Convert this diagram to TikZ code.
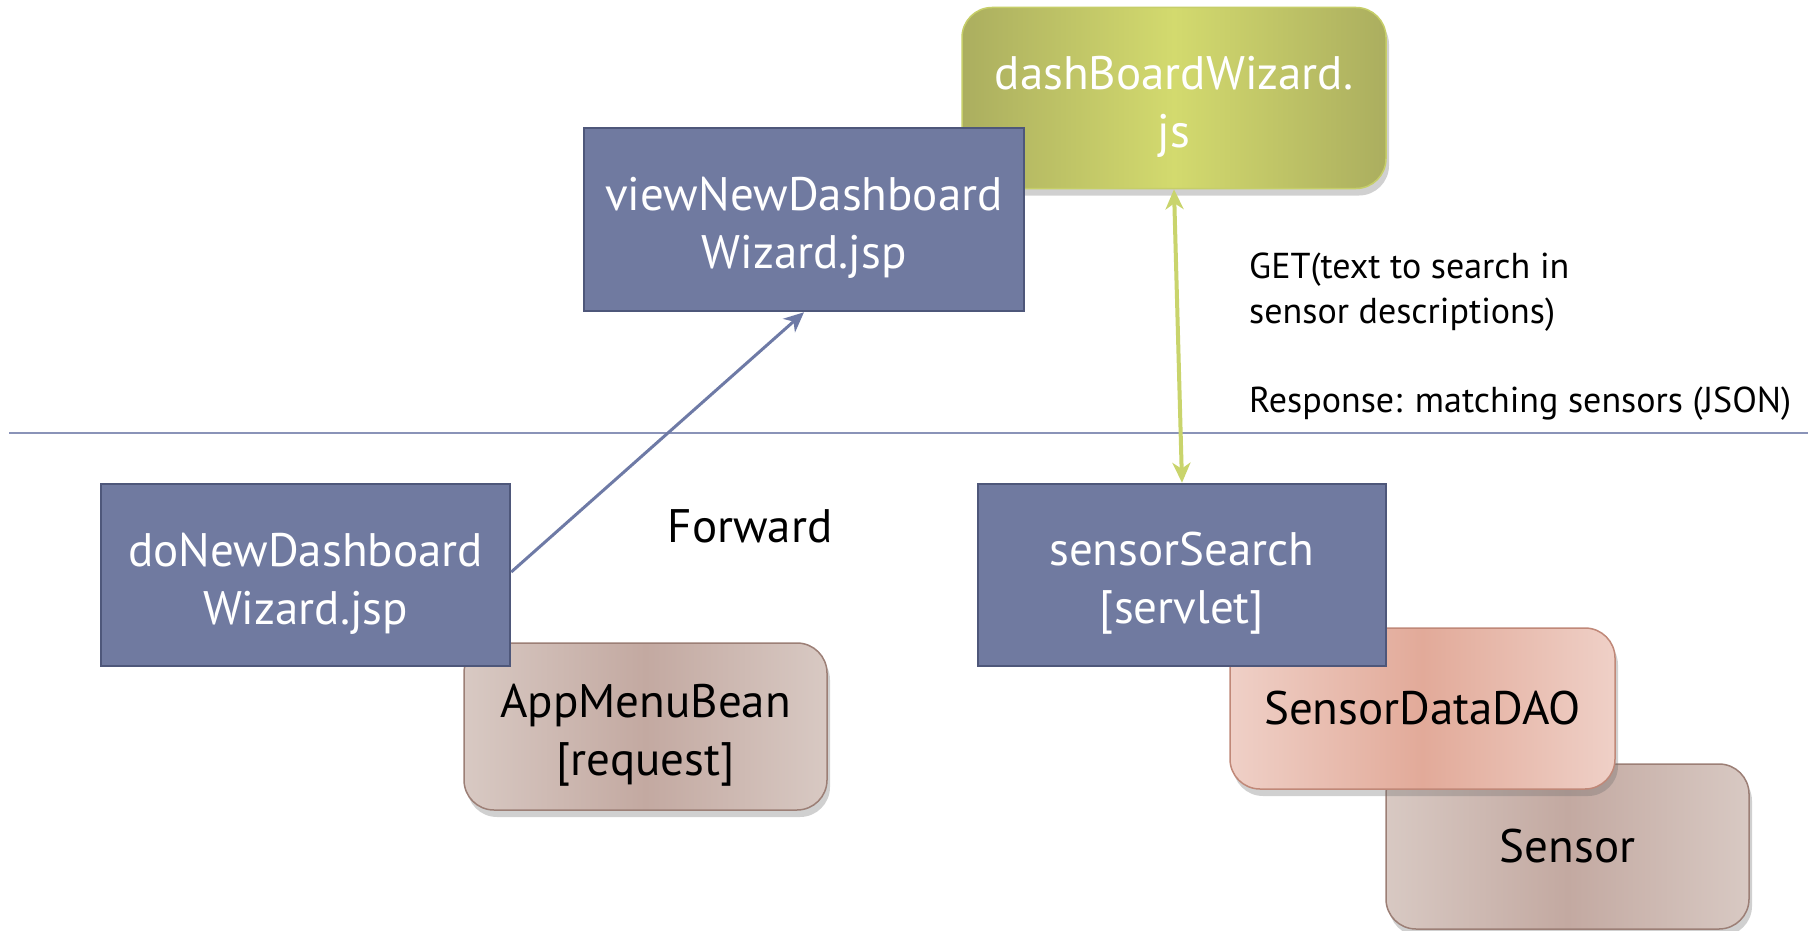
\documentclass[tikz,border=0pt]{standalone}
\usepackage{fontspec}
\setmainfont{PT Sans}
\usetikzlibrary{shadows,arrows.meta}
\definecolor{bluefill}{HTML}{707AA0}
\definecolor{blueline}{HTML}{4E577A}
\definecolor{arrowblue}{HTML}{6E7AA6}
\definecolor{greenin}{HTML}{D3DA6E}
\definecolor{greenout}{HTML}{ABAE5F}
\definecolor{greenline}{HTML}{C6CE68}
\definecolor{arrowgreen}{HTML}{C9D46C}
\definecolor{brownin}{HTML}{C3A9A1}
\definecolor{brownout}{HTML}{D8C9C3}
\definecolor{brownline}{HTML}{9C7F76}
\definecolor{salmonin}{HTML}{E2AA99}
\definecolor{salmonout}{HTML}{EFD0C7}
\definecolor{salmonline}{HTML}{C08878}
\definecolor{divider}{HTML}{8A93B8}
\newcommand{\topstrut}{\rule{0pt}{50pt}}
\tikzset{
  bluebox/.style={rectangle, draw=blueline, line width=2.5pt, fill=bluefill,
    text=white, align=center, font=\fontsize{47}{58}\selectfont, inner sep=0pt},
  roundbox/.style={rectangle, rounded corners=30pt, line width=1.5pt, align=center,
    inner sep=0pt, font=\fontsize{47}{58}\selectfont,
    drop shadow={shadow xshift=3pt, shadow yshift=-7pt, opacity=0.3, fill=black!60}},
  greenbox/.style={roundbox, draw=greenline, left color=greenout, right color=greenout, middle color=greenin, text=white},
  brownbox/.style={roundbox, draw=brownline, left color=brownout, right color=brownout, middle color=brownin, text=black},
  salmonbox/.style={roundbox, draw=salmonline, left color=salmonout, right color=salmonout, middle color=salmonin, text=black},
  lbl/.style={font=\fontsize{36}{45}\selectfont, align=left, anchor=base west, inner sep=0pt},
}
\begin{document}
\begin{tikzpicture}[x=1pt,y=-1pt]
\useasboundingbox[fill=white] (0,0) rectangle (1814,931);
% divider
\coordinate (dl) at (9,433);
\coordinate (dr) at (1808,433);
\draw[divider, line width=1.2pt] (dl) -- (dr);
% top boxes
\node[greenbox, minimum width=424pt, minimum height=181pt] (js) at (1174,98) {\topstrut dashBoardWizard.\\js};
\node[bluebox, minimum width=440pt, minimum height=183pt] (view) at (804,219.5) {\topstrut viewNewDashboard\\Wizard.jsp};
% bottom left
\node[brownbox, minimum width=363pt, minimum height=167pt] (bean) at (645.5,726.5) {\topstrut AppMenuBean\\{[request]}};
\node[bluebox, minimum width=409pt, minimum height=182pt] (donew) at (305.5,575) {\topstrut doNewDashboard\\Wizard.jsp};
% bottom right
\node[brownbox, minimum width=363pt, minimum height=165pt] (sensor) at (1567.5,846.5) {Sensor};
\node[salmonbox, minimum width=385pt, minimum height=161pt] (dao) at (1422.5,708.5) {SensorDataDAO};
\node[bluebox, minimum width=408pt, minimum height=182pt] (search) at (1182,575) {\topstrut sensorSearch\\{[servlet]}};
% connectors
\draw[arrowblue, line width=3pt, -{Stealth[length=20pt,width=18pt,inset=6pt]}] (donew.east) ++(0,-3) coordinate (fs) (fs) -- (view.south);
\draw[arrowgreen, line width=4pt, {Stealth[length=20pt,width=18pt,inset=6pt]}-{Stealth[length=20pt,width=18pt,inset=6pt]}] (js.south) -- (search.north);
% labels
\node[font=\fontsize{47}{56}\selectfont, inner sep=0pt] (fwd) at (750,526) {Forward};
\node[lbl] (get) at (1249,278) {GET(text to search in};
\node[lbl] (get2) at (1249,323) {sensor descriptions)};
\node[lbl] (resp) at (1249,412) {Response: matching sensors (JSON)};
\end{tikzpicture}
\end{document}
